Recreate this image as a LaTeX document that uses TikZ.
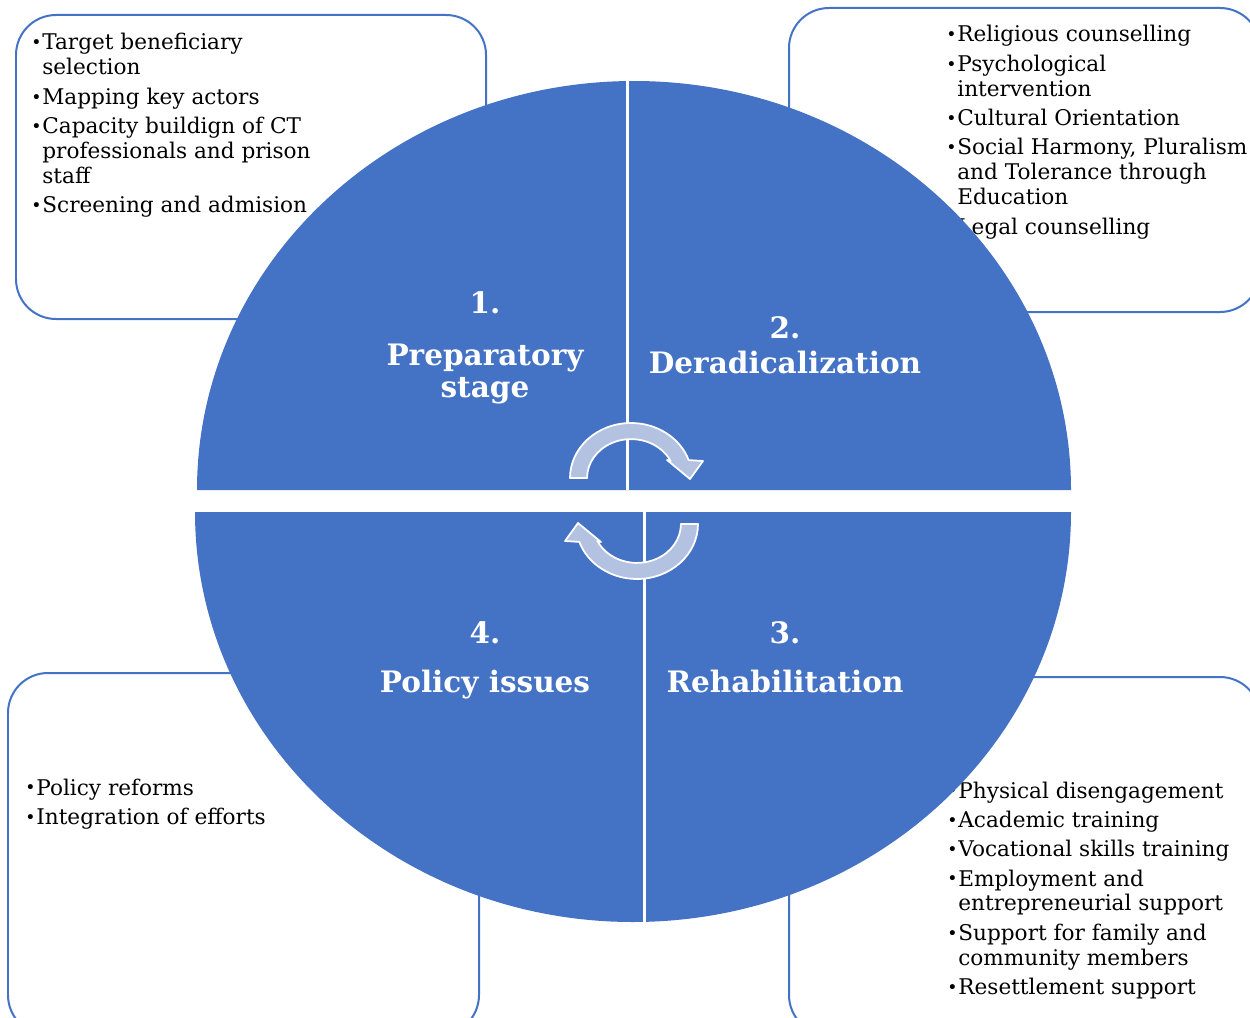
\documentclass[tikz,border=0pt]{standalone}
\usepackage{fontspec}
\usepackage{graphicx}
\setmainfont{DejaVu Serif}
\definecolor{quadblue}{HTML}{4472C4}
\definecolor{arrowgrey}{HTML}{B4C2E2}
\tikzset{
  stagebox/.style = {draw=quadblue, line width=0.04cm, fill=white,
                     rounded corners=0.8cm},
  quad/.style = {fill=quadblue},
  gapline/.style = {draw=white, line width=0.06cm},
  cyclearrow/.style = {fill=arrowgrey, draw=white, line width=0.035cm,
                       line join=round},
  stagetitle/.style = {text=white, anchor=base, inner sep=0pt,
                       font=\fontsize{16.8}{20}\selectfont\bfseries},
  itemlist/.style = {anchor=base west, inner sep=0pt,
                     font=\fontsize{12.3}{14.2}\selectfont}
}
\newcommand\bul{\makebox[0.22cm][l]{\raisebox{0.6pt}{\scalebox{0.8}{\textbullet}}}}
\newcommand\itemgap{2.5pt}

\begin{document}
\begin{tikzpicture}[x=0.02cm, y=-0.02cm]
	\useasboundingbox (0,0) rectangle (1250,1017);
	\clip (0,0) rectangle (1250,1017);

	% Corner boxes
	\path[stagebox] (16,15)  rectangle (486,319);  % 1
	\path[stagebox] (789,8)  rectangle (1260,312); % 2
	\path[stagebox] (789,677) rectangle (1260,1035); % 3
	\path[stagebox] (8,673)  rectangle (479,1035); % 4

	% Box texts
	\node[itemlist] (prepitems) at (31,50) {\begin{tabular}[t]{@{}l@{}l@{}}
		\bul & Target beneficiary\\
		     & selection\\[\itemgap]
		\bul & Mapping key actors\\[\itemgap]
		\bul & Capacity buildign of CT\\
		     & professionals and prison\\
		     & staff\\[\itemgap]
		\bul & Screening and admision
	\end{tabular}};
	\node[itemlist] (deraditems) at (946,42) {\begin{tabular}[t]{@{}l@{}l@{}}
		\bul & Religious counselling\\[\itemgap]
		\bul & Psychological\\
		     & intervention\\[\itemgap]
		\bul & Cultural Orientation\\[\itemgap]
		\bul & Social Harmony, Pluralism\\
		     & and Tolerance through\\
		     & Education\\[\itemgap]
		\bul & Legal counselling
	\end{tabular}};
	\node[itemlist] (rehabitems) at (947,798) {\begin{tabular}[t]{@{}l@{}l@{}}
		\bul & Physical disengagement\\[\itemgap]
		\bul & Academic training\\[\itemgap]
		\bul & Vocational skills training\\[\itemgap]
		\bul & Employment and\\
		     & entrepreneurial support\\[\itemgap]
		\bul & Support for family and\\
		     & community members\\[\itemgap]
		\bul & Resettlement support
	\end{tabular}};
	\node[itemlist] (policyitems) at (25,795) {\begin{tabular}[t]{@{}l@{}l@{}}
		\bul & Policy reforms\\[\itemgap]
		\bul & Integration of efforts
	\end{tabular}};

	% Quadrants
	\fill[quad] (197,490) arc[start angle=180, end angle=360, x radius=437, y radius=409] -- cycle;
	\fill[quad] (195,512) arc[start angle=180, end angle=0, x radius=438, y radius=410] -- cycle;
	\draw[gapline] (627,60) -- (627,490);
	\draw[gapline] (644,512) -- (644,940);

	% Cycle arrows
	\foreach \ang in {0,180} {
		\path[cyclearrow, rotate around={\ang:(634,501)}]
			(570,478) arc[start angle=180, end angle=341, x radius=61, y radius=55]
			-- (703,461) -- (690,479) -- (667,460) -- (670.6,461)
			arc[start angle=334, end angle=180, x radius=44, y radius=39] -- cycle;
	}

	% Stage titles
	\node[stagetitle] (numprep)   at (485,313) {1.};
	\node[stagetitle] (prepA)     at (485,365) {Preparatory};
	\node[stagetitle] (prepB)     at (485,397) {stage};
	\node[stagetitle] (numderad)  at (785,338) {2.};
	\node[stagetitle] (derad)     at (785,373) {Deradicalization};
	\node[stagetitle] (numrehab)  at (785,643) {3.};
	\node[stagetitle] (rehab)     at (785,692) {Rehabilitation};
	\node[stagetitle] (numpolicy) at (485,643) {4.};
	\node[stagetitle] (policy)    at (485,692) {Policy issues};
\end{tikzpicture}
\end{document}
